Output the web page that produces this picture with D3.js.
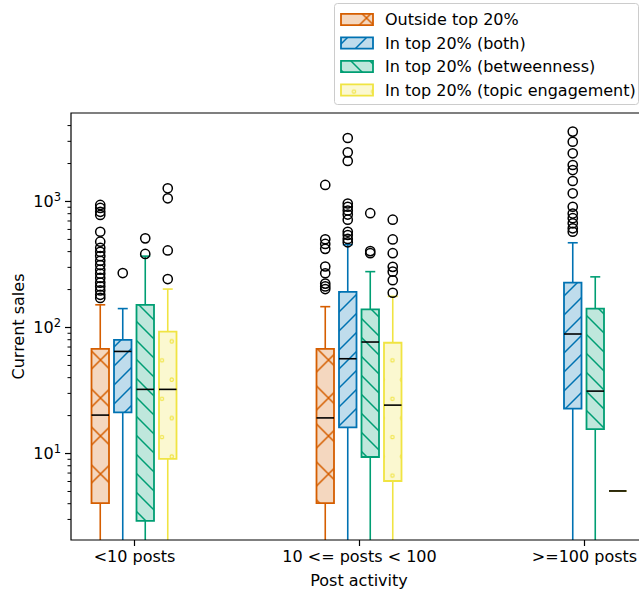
<!DOCTYPE html>
<html>
<head>
<meta charset="utf-8">
<script src="https://cdn.jsdelivr.net/npm/d3@7"></script>
<style>
  html, body { margin: 0; padding: 0; background: #fff; }
  svg { display: block; }
  text { font-family: "DejaVu Sans", sans-serif; fill: #000; }
</style>
</head>
<body>
<div id="chart"></div>
<script>
// Categories along the x axis
const categories = ["<10 posts", "10 <= posts < 100", ">=100 posts"];

// Series (hue groups)
const seriesNames = [
  "Outside top 20%",
  "In top 20% (both)",
  "In top 20% (betweenness)",
  "In top 20% (topic engagement)"
];

// Box statistics per category: [whisker low, Q1, median, Q3, whisker high]; null = no data
const outsideBoxes     = [[1, 4, 20, 67, 150], [1, 4, 19, 67, 145], null];
const bothBoxes        = [[1, 21, 64, 79, 140], [1, 16, 56, 190, 450], [1, 22.5, 88, 225, 466]];
const betweennessBoxes = [[1, 2.9, 32, 150, 365], [1, 9.3, 76, 138, 275], [1, 15.5, 31, 140, 250]];
const engagementBoxes  = [[1, 9, 32, 92, 200], [1, 6, 24, 75, 175], [5, 5, 5, 5, 5]];

// Outliers per category
const outsideFliers = [
  [930, 880, 820, 775, 570, 475, 425, 395, 365, 335, 310, 285, 265, 245, 225, 210, 195, 180, 170],
  [1340, 497, 456, 417, 302, 267, 221, 210, 200],
  []
];
const bothFliers = [
  [268],
  [3160, 2430, 2075, 955, 900, 840, 780, 710, 570, 537, 500, 470],
  [3550, 2950, 2390, 1930, 1760, 1440, 1150, 900, 795, 730, 665, 607, 570]
];
const betweennessFliers = [[505, 380], [800, 400, 385], []];
const engagementFliers  = [[1260, 1050, 405, 240], [710, 495, 385, 300, 275, 235, 187], []];

// Y axis tick values
const yMajorTicks = [10, 100, 1000];
const yMinorTicks = [3, 4, 5, 6, 7, 8, 9, 20, 30, 40, 50, 60, 70, 80, 90,
                     200, 300, 400, 500, 600, 700, 800, 900, 2000, 3000, 4000];

const boxesBySeries  = [outsideBoxes, bothBoxes, betweennessBoxes, engagementBoxes];
const fliersBySeries = [outsideFliers, bothFliers, betweennessFliers, engagementFliers];

// Styling
const colors  = ["#d55e00", "#0072b2", "#009e73", "#f0e442"];
const hatchId = ["hatch-x", "hatch-fwd", "hatch-back", "hatch-dots"];

const W = 639, H = 592;
const margin = { left: 71, top: 113, bottom: 52 };
const plotRight = 647; // axes run past the right edge of the figure

const svg = d3.select("#chart").append("svg")
  .attr("width", W).attr("height", H);

const x = d3.scaleLinear().domain([-0.28, 2.28]).range([margin.left, plotRight]);
const sub = d3.scaleBand().domain(seriesNames).range([-45, 45]);
const boxW = 17.5;
const y = d3.scaleLog().domain([Math.pow(10, 0.31), Math.pow(10, 3.698)])
  .range([H - margin.bottom, margin.top]);

const defs = svg.append("defs");
defs.append("clipPath").attr("id", "plot-clip")
  .append("rect")
  .attr("x", margin.left).attr("y", margin.top)
  .attr("width", plotRight - margin.left).attr("height", H - margin.bottom - margin.top);

// Hatch patterns anchored to the figure origin
function linePattern(id, size, ox, oy, d, color) {
  const p = defs.append("pattern").attr("id", id)
    .attr("patternUnits", "userSpaceOnUse")
    .attr("x", ox).attr("y", oy).attr("width", size).attr("height", size);
  p.append("path").attr("d", d).attr("stroke", color)
    .attr("stroke-width", 1.5).attr("fill", "none");
}
{
  const s = 38;
  linePattern("hatch-x", s, 24.5, 18,
    `M0,0L${s},${s}M0,${s}L${s},0M${-s / 2},${s / 2}L${s / 2},${1.5 * s}M${s / 2},${-s / 2}L${1.5 * s},${s / 2}` +
    `M${-s / 2},${s / 2}L${s / 2},${-s / 2}M${s / 2},${1.5 * s}L${1.5 * s},${s / 2}`, colors[0]);
  const t = 19;
  linePattern("hatch-fwd", t, 0, 5,
    `M-2,2L2,-2M0,${t}L${t},0M${t - 2},${t + 2}L${t + 2},${t - 2}`, colors[1]);
  linePattern("hatch-back", t, 0, 14,
    `M-2,${t - 2}L2,${t + 2}M0,0L${t},${t}M${t - 2},-2L${t + 2},2`, colors[2]);
  const cw = 19.2, ch = 38.4;
  const p = defs.append("pattern").attr("id", "hatch-dots")
    .attr("patternUnits", "userSpaceOnUse")
    .attr("x", 0).attr("y", 0).attr("width", cw).attr("height", ch);
  [[18.1, 34.1], [18.1 - cw, 34.1], [8.4, 14.7]].forEach(([cx, cy]) => {
    p.append("circle").attr("cx", cx).attr("cy", cy).attr("r", 1.7)
      .attr("fill", "none").attr("stroke", colors[3]).attr("stroke-width", 1.1);
  });
}

// Boxes
const plot = svg.append("g").attr("clip-path", "url(#plot-clip)");

seriesNames.forEach((name, si) => {
  const color = colors[si];
  boxesBySeries[si].forEach((stats, ci) => {
    if (!stats) return;
    const [lo, q1, med, q3, hi] = stats;
    const cx = x(ci) + sub(name) + sub.bandwidth() / 2;
    const x0 = cx - boxW / 2, x1 = cx + boxW / 2;
    const g = plot.append("g");
    // whiskers
    g.append("line").attr("x1", cx).attr("x2", cx).attr("y1", y(q3)).attr("y2", y(hi))
      .attr("stroke", color).attr("stroke-width", 1.6);
    g.append("line").attr("x1", cx).attr("x2", cx).attr("y1", y(q1)).attr("y2", y(lo))
      .attr("stroke", color).attr("stroke-width", 1.6);
    // caps
    [lo, hi].forEach(v => {
      g.append("line").attr("x1", cx - 5).attr("x2", cx + 5).attr("y1", y(v)).attr("y2", y(v))
        .attr("stroke", color).attr("stroke-width", 1.6);
    });
    // box body: tinted fill, hatch, edge
    const boxPath = `M${x0},${y(q3)}H${x1}V${y(q1)}H${x0}Z`;
    g.append("path").attr("d", boxPath).attr("fill", color).attr("fill-opacity", 0.25);
    g.append("path").attr("d", boxPath).attr("fill", `url(#${hatchId[si]})`);
    g.append("path").attr("d", boxPath).attr("fill", "none")
      .attr("stroke", color).attr("stroke-width", 1.8).attr("stroke-linejoin", "miter");
    // median
    g.append("line").attr("x1", x0).attr("x2", x1).attr("y1", y(med)).attr("y2", y(med))
      .attr("stroke", "#000").attr("stroke-width", 1.6);
    // outliers
    g.selectAll("circle.flier").data(fliersBySeries[si][ci]).join("circle")
      .attr("class", "flier")
      .attr("cx", cx).attr("cy", d => y(d)).attr("r", 4.6)
      .attr("fill", "none").attr("stroke", "#000").attr("stroke-width", 1.5);
  });
});

// Axes
const fontSize = 16;
const yAxisG = svg.append("g").attr("transform", `translate(${margin.left},0)`);
yAxisG.call(d3.axisLeft(y).tickValues(yMinorTicks).tickSize(3.5).tickFormat("").tickSizeOuter(0))
  .call(g => g.select(".domain").remove())
  .call(g => g.selectAll("line").attr("stroke", "#000").attr("stroke-width", 1));
const yMajorG = svg.append("g").attr("transform", `translate(${margin.left},0)`);
yMajorG.call(d3.axisLeft(y).tickValues(yMajorTicks).tickSize(6).tickPadding(5).tickFormat(() => "").tickSizeOuter(0))
  .call(g => g.select(".domain").remove())
  .call(g => g.selectAll("line").attr("stroke", "#000").attr("stroke-width", 1.2));
yMajorG.selectAll(".tick text")
  .attr("font-size", fontSize)
  .attr("font-family", "DejaVu Sans, sans-serif")
  .attr("x", -10)
  .attr("dy", "0.36em")
  .each(function (d) {
    const t = d3.select(this);
    t.append("tspan").text("10");
    t.append("tspan").attr("font-size", 11.5).attr("dy", "-0.55em")
      .text(String(Math.round(Math.log10(d))));
  });

const xAxisG = svg.append("g").attr("transform", `translate(0,${H - margin.bottom})`);
xAxisG.call(d3.axisBottom(x).tickValues(d3.range(categories.length))
    .tickFormat(i => categories[i]).tickSize(6).tickPadding(5).tickSizeOuter(0))
  .call(g => g.select(".domain").remove())
  .call(g => g.selectAll("line").attr("stroke", "#000").attr("stroke-width", 1.2))
  .call(g => g.selectAll("text").attr("font-size", fontSize)
    .attr("font-family", "DejaVu Sans, sans-serif"));

// Spines
const spines = svg.append("g").attr("stroke", "#000").attr("stroke-width", 1.2).attr("fill", "none");
spines.append("path").attr("d",
  `M${plotRight},${margin.top}H${margin.left}V${H - margin.bottom}H${plotRight}`);

// Axis titles
svg.append("text")
  .attr("x", (margin.left + plotRight) / 2).attr("y", 586)
  .attr("text-anchor", "middle").attr("font-size", fontSize)
  .text("Post activity");
svg.append("text")
  .attr("transform", `translate(23.5,${(margin.top + H - margin.bottom) / 2}) rotate(-90)`)
  .attr("text-anchor", "middle").attr("font-size", fontSize)
  .text("Current sales");

// Legend
const legend = svg.append("g");
legend.append("rect")
  .attr("x", 334.5).attr("y", 3.5).attr("width", 304).attr("height", 101)
  .attr("rx", 3).attr("fill", "#fff").attr("fill-opacity", 0.8)
  .attr("stroke", "#cccccc").attr("stroke-width", 1);
seriesNames.forEach((name, i) => {
  const cy = 19.5 + i * 23.5;
  const r = `M341,${cy - 5.6}H373V${cy + 5.6}H341Z`;
  legend.append("path").attr("d", r).attr("fill", colors[i]).attr("fill-opacity", 0.25);
  legend.append("path").attr("d", r).attr("fill", `url(#${hatchId[i]})`);
  legend.append("path").attr("d", r).attr("fill", "none")
    .attr("stroke", colors[i]).attr("stroke-width", 1.8);
  legend.append("text").attr("x", 385).attr("y", cy).attr("dy", "0.36em")
    .attr("font-size", fontSize).text(name);
});
</script>
</body>
</html>
